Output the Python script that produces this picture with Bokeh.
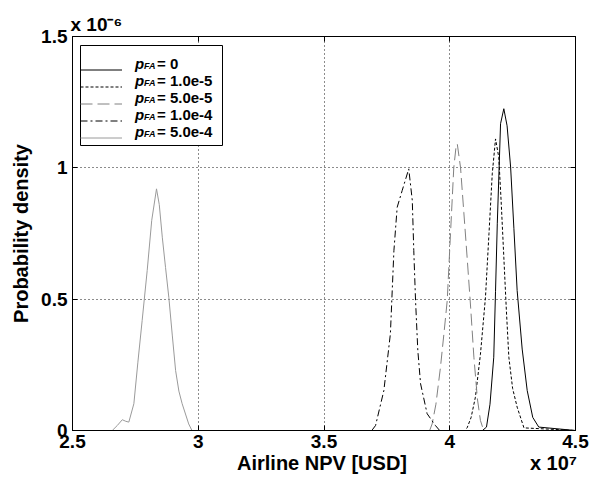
from bokeh.plotting import figure
from bokeh.models import Legend, LegendItem, Label, LinearAxis, FixedTicker, Range1d, Title, BoxAnnotation
from bokeh.embed import file_html
from bokeh.resources import INLINE

# ---------------- data (x in 1e7 USD, y in 1e-6) ----------------
legend_values = ["0", "1.0e-5", "5.0e-5", "1.0e-4", "5.0e-4"]

x_p0 = [2.5, 4.13, 4.146, 4.16, 4.175, 4.182, 4.189, 4.202, 4.215, 4.228, 4.242, 4.255, 4.268, 4.288, 4.308, 4.33, 4.354, 4.5]
y_p0 = [0, 0, 0.013, 0.10, 0.279, 0.53, 0.787, 1.168, 1.225, 1.16, 1.003, 0.77, 0.533, 0.31, 0.152, 0.05, 0.013, 0]

x_p1 = [2.5, 4.06, 4.069, 4.085, 4.102, 4.122, 4.142, 4.156, 4.169, 4.182, 4.195, 4.205, 4.215, 4.225, 4.235, 4.25, 4.268, 4.295, 4.5]
y_p1 = [0, 0, 0.01, 0.05, 0.127, 0.29, 0.507, 0.75, 0.977, 1.11, 1.04, 0.86, 0.66, 0.46, 0.279, 0.16, 0.089, 0.01, 0]

x_p2 = [2.5, 3.92, 3.93, 3.945, 3.963, 3.977, 3.99, 4.003, 4.016, 4.025, 4.03, 4.043, 4.056, 4.069, 4.083, 4.096, 4.11, 4.122, 4.135, 4.5]
y_p2 = [0, 0, 0.025, 0.10, 0.24, 0.37, 0.495, 0.75, 1.0, 1.08, 1.091, 1.0, 0.83, 0.66, 0.47, 0.279, 0.12, 0.038, 0, 0]

x_p3 = [2.5, 3.69, 3.705, 3.738, 3.764, 3.778, 3.791, 3.811, 3.837, 3.851, 3.857, 3.864, 3.873, 3.884, 3.91, 3.943, 3.96, 4.5]
y_p3 = [0, 0, 0.019, 0.152, 0.368, 0.685, 0.85, 0.914, 0.996, 0.876, 0.685, 0.495, 0.305, 0.178, 0.064, 0.019, 0, 0]

x_p4 = [2.5, 2.658, 2.678, 2.698, 2.712, 2.724, 2.744, 2.76, 2.777, 2.797, 2.815, 2.834, 2.845, 2.857, 2.87, 2.883, 2.897, 2.91, 2.923, 2.936, 2.962, 2.975, 4.5]
y_p4 = [0, 0, 0.019, 0.041, 0.035, 0.032, 0.102, 0.26, 0.419, 0.609, 0.8, 0.92, 0.86, 0.736, 0.62, 0.507, 0.36, 0.228, 0.15, 0.102, 0.025, 0, 0]

x_ticks = [2.5, 3, 3.5, 4, 4.5]
x_tick_labels = ["2.5", "3", "3.5", "4", "4.5"]
y_ticks = [0, 0.5, 1, 1.5]
y_tick_labels = ["0", "0.5", "1", "1.5"]

x_label = "Airline NPV [USD]"
y_label = "Probability density"
x_exponent = "x 10\u2077"
y_exponent = "x 10\u207b\u2076"

# ---------------- layout ----------------
FONT = "Liberation Sans"
W, H = 589, 489
FL, FR, FT, FB = 72, 575, 36, 430   # frame edges in px
X0, X1, Y0, Y1 = 2.5, 4.5, 0.0, 1.5

def px2x(px):
    return X0 + (px - FL) * (X1 - X0) / (FR - FL)

def px2y(py):
    return Y0 + (FB - py) * (Y1 - Y0) / (FB - FT)

p = figure(width=W, height=H, x_range=Range1d(X0, X1), y_range=Range1d(Y0, Y1),
           output_backend="svg", toolbar_location=None,
           min_border_left=FL, min_border_right=W - FR, min_border_top=FT, min_border_bottom=H - FB,
           y_axis_label=y_label)
p.background_fill_color = "white"
p.border_fill_color = "white"
p.outline_line_color = "black"
p.outline_line_width = 1
p.outline_line_alpha = 1

for ax in (p.xaxis[0], p.yaxis[0]):
    ax.major_tick_in = 5
    ax.major_tick_out = 0
    ax.minor_tick_line_color = None
    ax.axis_line_color = "black"
    ax.major_tick_line_color = "black"
    ax.major_label_text_font = FONT
    ax.major_label_text_font_size = "19px"
    ax.major_label_text_font_style = "bold"
    ax.major_label_text_color = "black"
    ax.axis_label_text_font = FONT
    ax.axis_label_text_font_size = "20px"
    ax.axis_label_text_font_style = "bold"
    ax.axis_label_text_color = "black"

p.xaxis[0].ticker = FixedTicker(ticks=x_ticks)
p.xaxis[0].major_label_overrides = {t: l for t, l in zip(x_ticks, x_tick_labels)}
p.xaxis[0].major_label_standoff = 4
p.yaxis[0].ticker = FixedTicker(ticks=y_ticks)
p.yaxis[0].major_label_overrides = {t: l for t, l in zip(y_ticks, y_tick_labels)}
p.yaxis[0].major_label_standoff = 5
p.yaxis[0].axis_label_standoff = 6

# second row below the x tick labels: axis title and exponent multiplier
lab_x = [px2x(321.5), px2x(553)]
lab_ax = LinearAxis(ticker=FixedTicker(ticks=lab_x),
                    major_label_overrides={lab_x[0]: x_label, lab_x[1]: x_exponent},
                    axis_line_color=None, major_tick_line_color=None, minor_tick_line_color=None,
                    major_tick_in=0, major_tick_out=0, major_label_standoff=1,
                    major_label_text_font=FONT, major_label_text_font_size="20px",
                    major_label_text_font_style="bold", major_label_text_color="black")
p.add_layout(lab_ax, "below")

top_ax = LinearAxis(ticker=FixedTicker(ticks=x_ticks), major_label_text_font_size="1px",
                    major_label_text_color=None,
                    major_tick_in=5, major_tick_out=0, minor_tick_line_color=None,
                    axis_line_color="black", major_label_standoff=0)
right_ax = LinearAxis(ticker=FixedTicker(ticks=y_ticks), major_label_text_font_size="1px",
                      major_label_text_color=None,
                      major_tick_in=5, major_tick_out=0, minor_tick_line_color=None,
                      axis_line_color="black", major_label_standoff=0)
p.add_layout(top_ax, "above")
p.add_layout(right_ax, "right")

p.add_layout(Title(text=y_exponent, align="left", text_font=FONT, text_font_size="19px",
                   text_font_style="bold", text_color="black", standoff=3, offset=-2), "above")

p.xgrid.ticker = FixedTicker(ticks=x_ticks)
p.ygrid.ticker = FixedTicker(ticks=y_ticks)
for g in (p.xgrid[0], p.ygrid[0]):
    g.grid_line_color = "black"
    g.grid_line_dash = "1 3"
    g.grid_line_width = 1
    g.grid_line_alpha = 0.9

styles = [
    dict(line_color="black", line_dash="solid"),
    dict(line_color="black", line_dash="3 2"),
    dict(line_color="#808080", line_dash="12 5"),
    dict(line_color="black", line_dash="7 3 2 3"),
    dict(line_color="#9a9a9a", line_dash="solid"),
]
series = [(x_p0, y_p0), (x_p1, y_p1), (x_p2, y_p2), (x_p3, y_p3), (x_p4, y_p4)]
renderers = []
for (xs, ys), st in zip(series, styles):
    renderers.append(p.line(xs, ys, line_width=1, **st))

# legend frame (opaque white box with black border)
p.add_layout(BoxAnnotation(left=px2x(80), right=px2x(222), top=px2y(45), bottom=px2y(145),
                           fill_color="white", fill_alpha=1, line_color="black", line_width=1,
                           line_alpha=1))

legend = Legend(items=[LegendItem(label=" ", renderers=[r]) for r in renderers],
                location=(8, 284), glyph_width=42, glyph_height=17, label_height=17,
                label_width=77, label_standoff=5, padding=8, spacing=0, margin=0,
                border_line_color=None, background_fill_alpha=0,
                label_text_font_size="1px", label_text_color=None)
p.add_layout(legend, "center")

for i, val in enumerate(legend_values):
    cy = 62.5 + 17 * i
    p.add_layout(Label(x=px2x(134.5), y=px2y(cy), text="p", text_font=FONT, text_font_size="15px",
                       text_font_style="bold italic", text_baseline="middle", text_color="black"))
    p.add_layout(Label(x=px2x(143.5), y=px2y(cy + 3), text="FA", text_font=FONT, text_font_size="9px",
                       text_font_style="bold italic", text_baseline="middle", text_color="black"))
    p.add_layout(Label(x=px2x(156.5), y=px2y(cy), text="= " + val, text_font=FONT, text_font_size="15px",
                       text_font_style="bold", text_baseline="middle", text_color="black"))

open("out.html", "w").write(file_html(p, INLINE))
